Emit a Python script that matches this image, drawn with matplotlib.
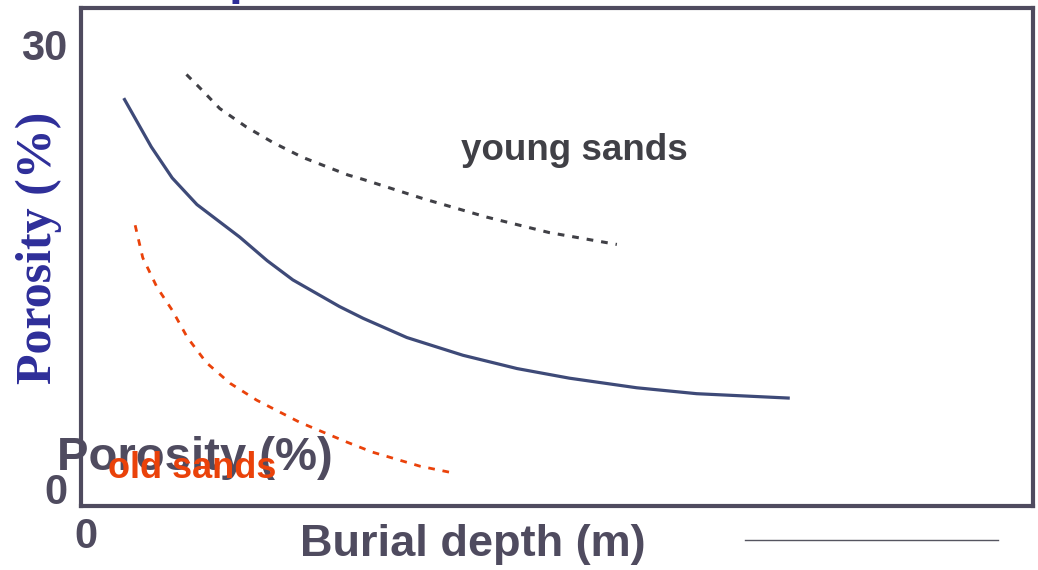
import matplotlib
matplotlib.use("Agg")
import matplotlib.pyplot as plt
from matplotlib.lines import Line2D

# Werte (x: Tiefe, willkuerliche Einheit; y: Porositaet %)
mid_depth = [4.0, 6.9, 9.1, 11.7, 16.2, 19.1, 21.8, 26.7, 29.2, 33.8, 39.7, 45.4, 50.9, 58.0, 64.3, 74.1]
mid_poro = [26.4, 23.1, 21.0, 19.2, 17.0, 15.4, 14.1, 12.3, 11.5, 10.2, 9.0, 8.1, 7.45, 6.8, 6.4, 6.1]

young_depth = [10.6, 12.0, 14.1, 16.9, 19.7, 22.8, 27.6, 29.2, 35.5, 42.2, 48.8, 55.9]
young_poro = [28.0, 27.1, 25.7, 24.45, 23.4, 22.4, 21.2, 20.9, 19.6, 18.35, 17.3, 16.5]

old_depth = [5.2, 6.0, 7.5, 9.1, 10.7, 12.7, 15.2, 18.0, 22.5, 27.5, 30.2, 35.2, 38.8]
old_poro = [17.8, 15.6, 13.6, 12.05, 10.2, 8.5, 7.1, 5.96, 4.47, 3.12, 2.44, 1.49, 1.02]

y_ticks = [0, 30]
y_ticklabels = ["0", "30"]
x_ticks = [0]
x_ticklabels = ["0"]

W, H = 1038, 570
grey = "#4f4b5f"
sans = "Liberation Sans"

fig = plt.figure(figsize=(W / 100, H / 100), dpi=100)
ax = fig.add_axes([81 / W, 1 - 506 / H, (1033 - 81) / W, (506 - 8) / H])

ax.plot(mid_depth, mid_poro, color="#3e4a78", lw=2.3, solid_capstyle="butt",
        solid_joinstyle="round")
ax.plot(young_depth, young_poro, color="#404046", lw=2.2, linestyle=(0, (2.2, 2.6)))
ax.plot(old_depth, old_poro, color="#ea420a", lw=2.0, linestyle=(0, (2.4, 2.8)))

ax.set_xlim(-0.5, 99.7)
ax.set_ylim(-1.2, 32.5)

for s in ax.spines.values():
    s.set_linewidth(3.0)
    s.set_color(grey)

ax.set_yticks(y_ticks)
ax.set_yticklabels(y_ticklabels)
ax.set_xticks(x_ticks)
ax.set_xticklabels(x_ticklabels)
ax.tick_params(length=0, labelsize=30, labelcolor=grey)
ax.tick_params(axis="y", pad=10)
ax.tick_params(axis="x", pad=8)
for lab in ax.get_xticklabels() + ax.get_yticklabels():
    lab.set_fontfamily(sans)
    lab.set_fontweight("bold")

# Beschriftungen im Diagramm
ax.text(-3.05, 1.22, "Porosity (%)", fontsize=34, fontweight="bold",
        family=sans, color=grey, ha="left", va="baseline", zorder=4)
ax.text(2.3, 0.68, "old sands", fontsize=26, fontweight="bold",
        family=sans, color="#ea420a", ha="left", va="baseline", zorder=5)
ax.text(51.4, 22.2, "young sands", fontsize=26.5, fontweight="bold",
        family=sans, color="#404046", ha="center", va="baseline")

# Achsentitel
fig.text(300 / W, 1 - 556 / H, "Burial depth (m)", fontsize=32.5, fontweight="bold",
         family=sans, color=grey, ha="left", va="baseline")
fig.text(39 / W, 1 - 248 / H, "Porosity (%)", fontsize=36, fontweight="bold",
         family="Liberation Serif", color="#2e2e99", rotation=90,
         ha="center", va="center")

# abgeschnittener Titel oben (nur die Unterlaenge des "p" sichtbar)
fig.text(228.5 / W, 1 + 6 / H, "p", fontsize=36, fontweight="bold",
         family=sans, color="#2e2e99", ha="left", va="baseline", zorder=-1)

fig.add_artist(Line2D([745 / W, 998 / W], [1 - 540 / H, 1 - 540 / H],
                      color="#555560", lw=1.0))

fig.savefig("out.png", dpi=100)
